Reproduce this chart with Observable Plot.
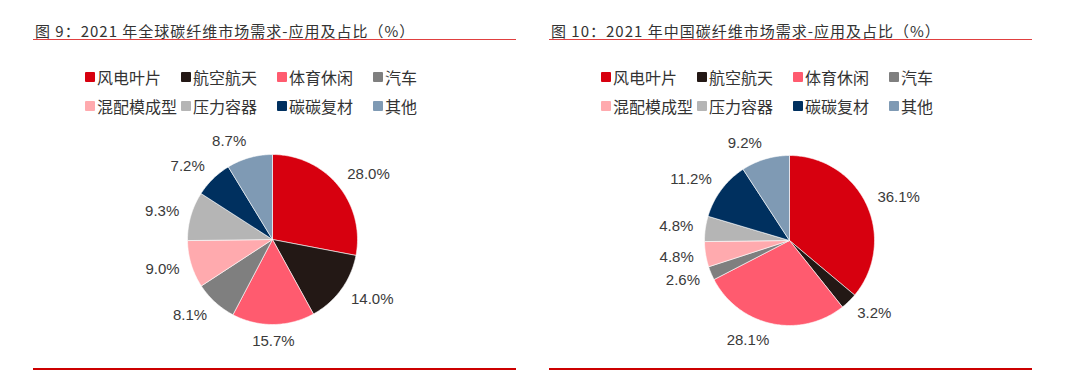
<!DOCTYPE html>
<html>
<head>
<meta charset="utf-8">
<script src="https://cdn.jsdelivr.net/npm/d3@7"></script>
<script src="https://cdn.jsdelivr.net/npm/@observablehq/plot@0.6"></script>
<style>
  html, body { margin: 0; padding: 0; background: #fff; }
  #wrap { position: relative; width: 1080px; height: 370px; overflow: hidden; font-family: "Noto Sans CJK SC", "Noto Sans", sans-serif; }
  .title { position: absolute; top: 23px; font-size: 15px; line-height: 15px; letter-spacing: 1px; color: #333; white-space: nowrap; }
  .topline { position: absolute; top: 39px; height: 1px; background: #e04040; }
  .botline { position: absolute; top: 368px; height: 2px; background: #cc0000; }
  .item { position: absolute; display: flex; align-items: center; height: 20px; font-size: 16px; color: #333; white-space: nowrap; }
  .sw { width: 10px; height: 10px; border-radius: 1px; margin-right: 2px; }
  .pie { position: absolute; }
</style>
</head>
<body>
<div id="wrap"></div>
<script>
// ---- data ----
const cats = ["风电叶片", "航空航天", "体育休闲", "汽车", "混配模成型", "压力容器", "碳碳复材", "其他"];
const colors = ["#D7000F", "#231815", "#FF5B6F", "#7F7F7F", "#FFAAAE", "#B5B5B5", "#00305F", "#7F9AB4"];
const globalShare = [28.0, 14.0, 15.7, 8.1, 9.0, 9.3, 7.2, 8.7];
const chinaShare = [36.1, 3.2, 28.1, 2.6, 4.8, 4.8, 11.2, 9.2];
const titles = ["图 9：2021 年全球碳纤维市场需求-应用及占比（%）", "图 10：2021 年中国碳纤维市场需求-应用及占比（%）"];

// ---- layout ----
const panels = [
  {values: globalShare, title: titles[0], titleX: 35, lineX0: 33, lineX1: 516, legX: 85, cx: 272, cy: 239},
  {values: chinaShare, title: titles[1], titleX: 551, lineX0: 549, lineX1: 1032, legX: 601, cx: 789, cy: 240}
];
const R = 85, W = 300, H = 240;
const wrap = document.getElementById("wrap");

function el(cls, style, text) {
  const d = document.createElement("div");
  d.className = cls;
  Object.assign(d.style, style);
  if (text != null) d.textContent = text;
  wrap.appendChild(d);
  return d;
}

function makePie(values) {
  const arcs = d3.pie().sort(null).value(d => d)(values);
  const pts = [];
  arcs.forEach((a, i) => {
    const n = Math.max(2, Math.ceil((a.endAngle - a.startAngle) / (Math.PI / 180)));
    pts.push({cat: cats[i], x: 0, y: 0});
    for (let k = 0; k <= n; k++) {
      const t = a.startAngle + (a.endAngle - a.startAngle) * k / n;
      pts.push({cat: cats[i], x: Math.sin(t), y: Math.cos(t)});
    }
    pts.push({cat: cats[i], x: 0, y: 0});
  });
  const labels = arcs.map((a, i) => {
    const m = (a.startAngle + a.endAngle) / 2;
    const s = Math.sin(m), c = Math.cos(m);
    return {
      label: values[i].toFixed(1) + "%",
      x: (R + 12) / R * s,
      y: (R + 17) / R * c,
      anchor: s > 0.15 ? "start" : s < -0.15 ? "end" : "middle"
    };
  });
  const textOpts = {x: "x", y: "y", text: "label", fontSize: 15, fill: "#3a3a3a", fontFamily: "Liberation Sans, Arial, sans-serif", lineAnchor: "middle"};
  return Plot.plot({
    width: W, height: H, margin: 0,
    style: {background: "transparent", overflow: "visible"},
    x: {domain: [-W / 2 / R, W / 2 / R], axis: null},
    y: {domain: [-H / 2 / R, H / 2 / R], axis: null},
    color: {domain: cats, range: colors},
    marks: [
      Plot.line(pts, {x: "x", y: "y", z: "cat", fill: "cat", stroke: "white", strokeWidth: 0.6, curve: "linear"}),
      ...["start", "end", "middle"].map(an =>
        Plot.text(labels.filter(d => d.anchor === an), {...textOpts, textAnchor: an}))
    ]
  });
}

panels.forEach(p => {
  el("title", {left: p.titleX + "px"}, p.title);
  el("topline", {left: p.lineX0 + "px", width: (p.lineX1 - p.lineX0) + "px"});
  el("botline", {left: p.lineX0 + "px", width: (p.lineX1 - p.lineX0) + "px"});
  cats.forEach((c, i) => {
    const col = i % 4, row = Math.floor(i / 4);
    const it = el("item", {left: (p.legX + col * 96) + "px", top: (67 + row * 29) + "px"});
    const sw = document.createElement("div");
    sw.className = "sw";
    sw.style.background = colors[i];
    it.appendChild(sw);
    const sp = document.createElement("span");
    sp.textContent = c;
    it.appendChild(sp);
  });
  const holder = el("pie", {left: (p.cx - W / 2) + "px", top: (p.cy - H / 2) + "px"});
  holder.appendChild(makePie(p.values));
});
</script>
</body>
</html>
